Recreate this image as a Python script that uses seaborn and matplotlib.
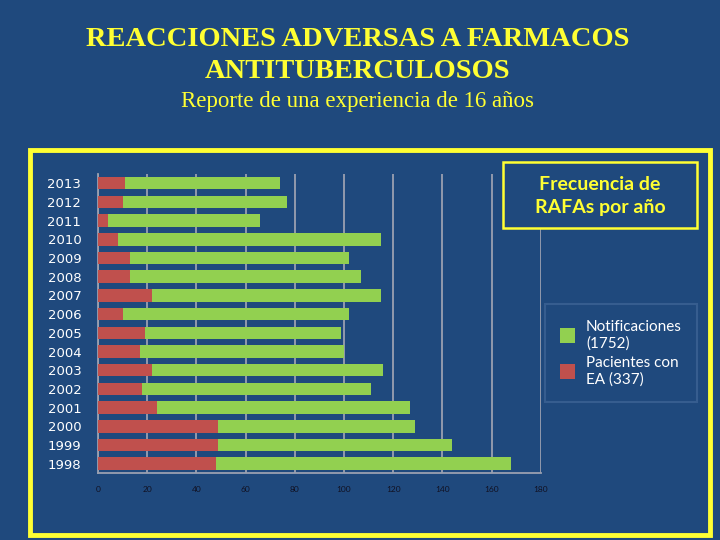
import numpy as np
import pandas as pd
import matplotlib.pyplot as plt
import seaborn as sns
from matplotlib.patches import Rectangle, Patch

# datos
years = ['2013', '2012', '2011', '2010', '2009', '2008', '2007', '2006',
         '2005', '2004', '2003', '2002', '2001', '2000', '1999', '1998']
notificaciones = [74, 77, 66, 115, 102, 107, 115, 102, 99, 100, 116, 111, 127, 129, 144, 168]
pacientes = [11, 10, 4, 8, 13, 13, 22, 10, 19, 17, 22, 18, 24, 49, 49, 48]

df = pd.DataFrame({'year': years, 'notif': notificaciones, 'pac': pacientes})

navy = '#1f497d'
yellow = '#ffff33'
green = '#92d050'
red = '#c0504d'
grey = '#9aa0b0'

sns.set_style('white')
plt.rcParams['font.family'] = ['Lato', 'DejaVu Sans']

fig = plt.figure(figsize=(7.2, 5.4), dpi=100, facecolor=navy)
ax = fig.add_axes([0.136, 0.124, 0.615, 0.554])
ax.set_facecolor(navy)

sns.barplot(data=df, x='notif', y='year', order=years, color=green,
            width=0.67, saturation=1, linewidth=0, ax=ax, zorder=3)
sns.barplot(data=df, x='pac', y='year', order=years, color=red,
            width=0.67, saturation=1, linewidth=0, ax=ax, zorder=4)

ax.set_xlim(0, 180)
ax.set_xticks(np.arange(0, 181, 20))
ax.set_ylim(15.5, -0.5)
ax.set_xlabel('')
ax.set_ylabel('')
ax.grid(axis='x', color=grey, linewidth=1.3, zorder=0)
ax.grid(axis='y', visible=False)
for s in ['top', 'right']:
    ax.spines[s].set_visible(False)
for s in ['left', 'bottom']:
    ax.spines[s].set_color(grey)
    ax.spines[s].set_linewidth(1.3)
ax.tick_params(axis='x', colors=grey, labelcolor='#111122', labelsize=6, length=4,
               width=1.3, direction='out', pad=5)
ax.tick_params(axis='y', labelcolor='white', length=0, pad=12)
for lbl in ax.get_yticklabels():
    lbl.set_family('DejaVu Sans')
    lbl.set_fontsize(9.5)

# marco amarillo
fig.patches.append(Rectangle((30 / 720, 5 / 540), 680 / 720, 385 / 540,
                             transform=fig.transFigure, fill=False,
                             edgecolor=yellow, linewidth=3.5))

# titulos
fig.text(0.497, 1 - 40 / 540, 'REACCIONES ADVERSAS A FARMACOS', ha='center',
         va='center', color=yellow, fontsize=20.5, fontweight='bold',
         family='Liberation Serif')
fig.text(0.497, 1 - 71 / 540, 'ANTITUBERCULOSOS', ha='center',
         va='center', color=yellow, fontsize=20.5, fontweight='bold',
         family='Liberation Serif')
fig.text(0.497, 1 - 101 / 540, 'Reporte de una experiencia de 16 años', ha='center',
         va='center', color=yellow, fontsize=16.5, family='Liberation Serif')

# caja de titulo
fig.patches.append(Rectangle((503 / 720, 1 - 228 / 540), 194 / 720, 66 / 540,
                             transform=fig.transFigure, facecolor=navy,
                             edgecolor=yellow, linewidth=1.8, zorder=5))
fig.text(600 / 720, 1 - 196 / 540, 'Frecuencia de\nRAFAs por año', ha='center',
         va='center', color=yellow, fontsize=14, fontweight='bold',
         linespacing=1.45, zorder=6)

handles = [Patch(facecolor=green, edgecolor='none', label='Notificaciones\n(1752)'),
           Patch(facecolor=red, edgecolor='none', label='Pacientes con\nEA (337)')]
leg = fig.legend(handles=handles, loc='center', bbox_to_anchor=(621 / 720, 1 - 353 / 540),
                 frameon=True, fontsize=11, handlelength=1.0, handleheight=1.1,
                 fancybox=False, labelspacing=0.35, borderpad=1.0, handletextpad=0.7)
leg.get_frame().set_facecolor(navy)
leg.get_frame().set_edgecolor('#3d6394')
leg.get_frame().set_linewidth(1.5)
for t in leg.get_texts():
    t.set_color('white')

fig.savefig('out.png', dpi=100, facecolor=navy)
